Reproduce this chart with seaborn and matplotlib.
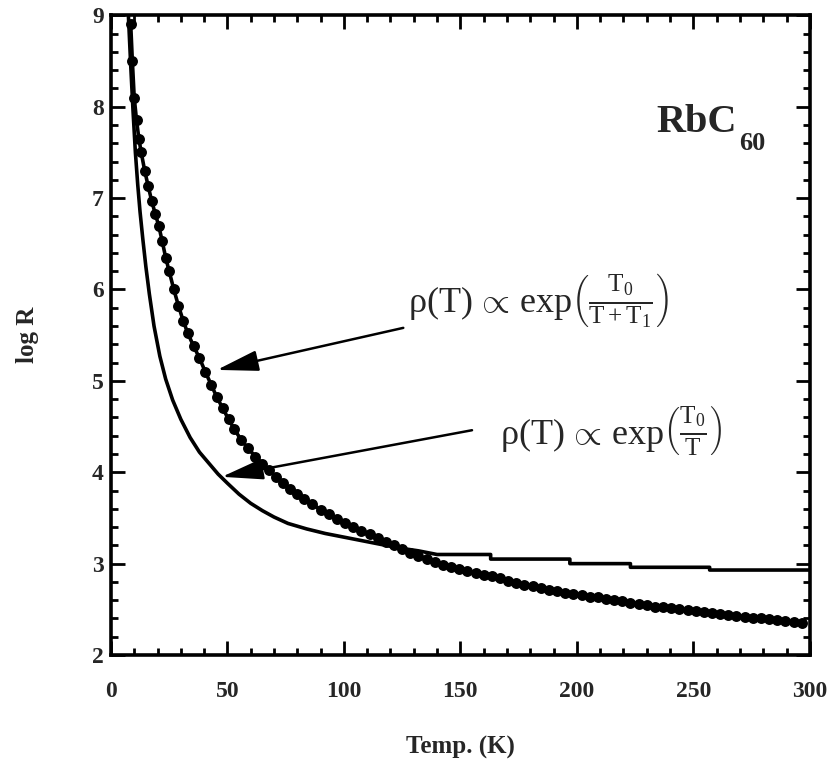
import matplotlib
matplotlib.use("Agg")
import matplotlib.pyplot as plt
from matplotlib.ticker import MultipleLocator
import seaborn as sns
import pandas as pd

# measured points (filled circles) with the T0/(T+T1) fit running through them
temp_data = [8.5, 9.2, 10, 11, 12, 13, 14.5, 16, 17.5, 19, 20.5, 22, 23.5, 25, 27, 29, 31, 33,
             35.5, 38, 40.5, 43, 45.5, 48, 50.5, 53, 56, 59, 62, 65, 68, 71, 74, 77, 80, 83,
             86.5, 90, 93.5, 97, 100.5, 104, 107.5, 111, 114.5, 118, 121.5, 125, 128.5, 132,
             135.5, 139, 142.5, 146, 149.5, 153, 156.5, 160, 163.5, 167, 170.5, 174, 177.5,
             181, 184.5, 188, 191.5, 195, 198.5, 202, 205.5, 209, 212.5, 216, 219.5, 223,
             226.5, 230, 233.5, 237, 240.5, 244, 247.5, 251, 254.5, 258, 261.5, 265, 268.5,
             272, 275.5, 279, 282.5, 286, 289.5, 293, 296.5]
logr_data = [8.9, 8.5, 8.1, 7.85, 7.65, 7.5, 7.3, 7.13, 6.97, 6.83, 6.7, 6.53, 6.35, 6.2, 6.0,
             5.82, 5.66, 5.52, 5.38, 5.25, 5.1, 4.96, 4.82, 4.7, 4.58, 4.47, 4.35, 4.26, 4.17,
             4.09, 4.02, 3.95, 3.88, 3.82, 3.76, 3.71, 3.65, 3.59, 3.54, 3.49, 3.44, 3.40,
             3.36, 3.32, 3.28, 3.24, 3.20, 3.16, 3.12, 3.08, 3.05, 3.02, 2.99, 2.96, 2.94,
             2.92, 2.90, 2.88, 2.86, 2.84, 2.81, 2.79, 2.77, 2.75, 2.73, 2.71, 2.70, 2.68,
             2.67, 2.66, 2.64, 2.63, 2.61, 2.60, 2.59, 2.57, 2.56, 2.55, 2.53, 2.52, 2.51,
             2.50, 2.49, 2.48, 2.47, 2.46, 2.45, 2.44, 2.43, 2.42, 2.41, 2.40, 2.39, 2.38,
             2.37, 2.36, 2.35]

# exp(T0/T) fit (the step-like tail is in the original plot)
temp_fit = [7.5, 8.5, 9.5, 10.5, 11.5, 12.5, 13.7, 15, 16.5, 18.5, 21, 23.5, 26.5, 30, 34, 38,
            42, 46, 50, 55, 60, 65, 70, 76, 84, 92, 100, 108, 116, 124, 132, 140, 163, 163,
            197, 197, 223, 223, 257, 257, 300]
logr_fit = [9.0, 8.45, 7.95, 7.5, 7.15, 6.85, 6.55, 6.25, 5.95, 5.6, 5.27, 5.02, 4.79, 4.58,
            4.38, 4.22, 4.10, 3.98, 3.88, 3.76, 3.66, 3.58, 3.51, 3.44, 3.38, 3.33, 3.29, 3.25,
            3.21, 3.17, 3.14, 3.10, 3.10, 3.05, 3.05, 3.00, 3.00, 2.96, 2.96, 2.93, 2.93]

formula_1 = r"$\mathrm{\rho(T)}\,\propto\,\mathrm{exp}\left(\frac{\mathrm{T_0}}{\mathrm{T+T_1}}\right)$"
formula_2 = r"$\mathrm{\rho(T)}\,\propto\,\mathrm{exp}\left(\frac{\mathrm{T_0}}{\mathrm{T}}\right)$"

df_data = pd.DataFrame({"T": temp_data, "logR": logr_data})
df_fit = pd.DataFrame({"T": temp_fit, "logR": logr_fit})

sns.set_theme(style="ticks")
plt.rcParams["font.family"] = ["Liberation Serif", "DejaVu Serif"]
plt.rcParams["mathtext.fontset"] = "custom"
plt.rcParams["mathtext.rm"] = "Liberation Serif"
plt.rcParams["mathtext.it"] = "Liberation Serif:italic"
plt.rcParams["mathtext.bf"] = "Liberation Serif:bold"

fig = plt.figure(figsize=(8.34, 7.67), dpi=100)
ax = fig.add_axes([0.133, 0.146, 0.838, 0.834])

sns.lineplot(data=df_fit, x="T", y="logR", ax=ax, color="black", lw=2.6,
             estimator=None, sort=False)
sns.lineplot(data=df_data, x="T", y="logR", ax=ax, color="black", lw=2.6,
             estimator=None, sort=False)
sns.scatterplot(data=df_data, x="T", y="logR", ax=ax, color="black", s=62,
                edgecolor="black", linewidth=0, zorder=3)

ax.set_xlim(0, 300)
ax.set_ylim(2, 9)
ax.xaxis.set_major_locator(MultipleLocator(50))
ax.xaxis.set_minor_locator(MultipleLocator(10))
ax.yaxis.set_major_locator(MultipleLocator(1))
ax.yaxis.set_minor_locator(MultipleLocator(0.2))
ax.tick_params(which="both", direction="in", top=True, right=True, width=2, color="black")
ax.tick_params(which="major", length=10)
ax.tick_params(which="minor", length=5)
ax.tick_params(axis="x", which="major", pad=19, labelsize=17)
ax.tick_params(axis="y", which="major", pad=5, labelsize=17)
for lab in ax.get_xticklabels() + ax.get_yticklabels():
    lab.set_fontweight("bold")
for sp in ax.spines.values():
    sp.set_linewidth(2.6)
    sp.set_color("black")

ax.set_xlabel("Temp. (K)", fontsize=18, fontweight="bold", labelpad=24)
ax.set_ylabel("log R", fontsize=18, fontweight="bold", labelpad=38)

ax.text(234.3, 7.83, "RbC", fontsize=29, fontweight="bold", va="center", ha="left")
ax.text(269.5, 7.60, "60", fontsize=19, fontweight="bold", va="center", ha="left")

arrow = dict(arrowstyle="-|>,head_length=0.8,head_width=0.2", color="black", lw=1.8,
             mutation_scale=32, shrinkA=0, shrinkB=0)
ax.annotate("", xy=(45.5, 5.12), xytext=(125.5, 5.58), arrowprops=arrow)
ax.annotate("", xy=(47.6, 3.95), xytext=(155, 4.46), arrowprops=arrow)
ax.text(127.5, 5.88, formula_1, fontsize=26, va="center", ha="left")
ax.text(167, 4.46, formula_2, fontsize=26, va="center", ha="left")

fig.savefig("out.png", dpi=100)
